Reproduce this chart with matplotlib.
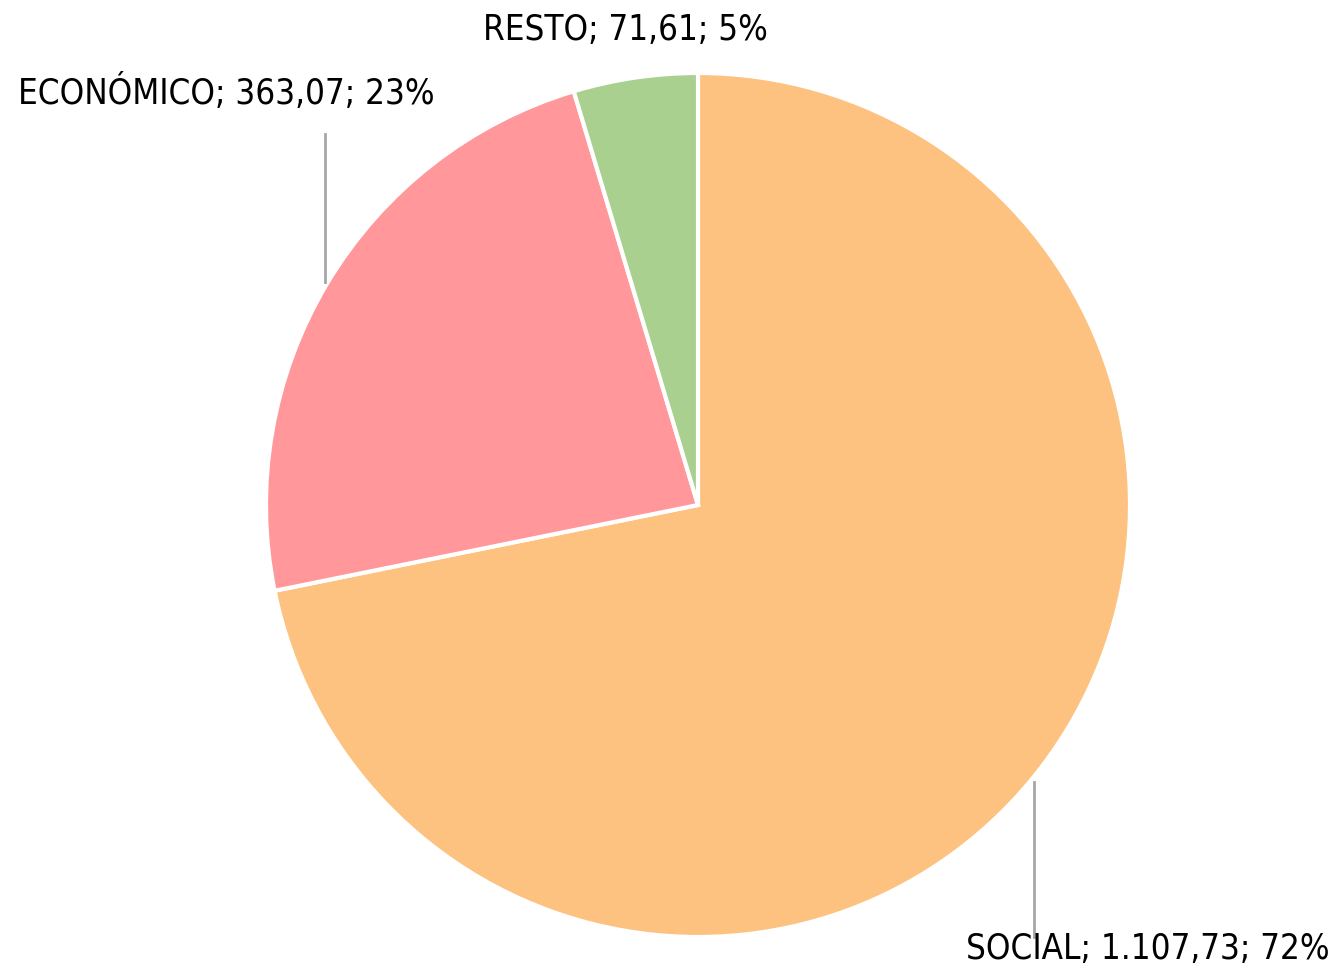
import matplotlib
matplotlib.use("Agg")
import matplotlib.pyplot as plt

# ── Data ─────────────────────────────────────────────
categories = ["SOCIAL", "ECONÓMICO", "RESTO"]
values = [1107.73, 363.07, 71.61]
percents = [72, 23, 5]
colors = ["#FDC180", "#FF979B", "#A9D08E"]

# label anchors in data units (pie radius = 1)
label_pos = [(1.463, -1.025, "right"), (-1.574, 0.958, "left"), (-0.167, 1.102, "center")]
leader_lines = {0: (0.778, -0.641, -1.0), 1: (-0.863, 0.859, 0.516)}


def fmt_es(v):
    s = f"{v:,.2f}"
    return s.replace(",", "X").replace(".", ",").replace("X", ".")


plt.rcParams["font.family"] = ["DejaVu Sans"]
plt.rcParams["font.stretch"] = "condensed"

fig = plt.figure(figsize=(13.38, 9.7), dpi=100)
ax = fig.add_axes([266 / 1338, 32 / 970, 864 / 1338, 864 / 970])

ax.pie(values, colors=colors, startangle=90, counterclock=False, radius=1,
       wedgeprops={"edgecolor": "white", "linewidth": 3})
ax.set_xlim(-1, 1)
ax.set_ylim(-1, 1)
ax.set_aspect("equal")
ax.axis("off")

for i, (cat, v) in enumerate(zip(categories, values)):
    x, y, ha = label_pos[i]
    ax.text(x, y, f"{cat}; {fmt_es(v)}; {percents[i]}%", ha=ha, va="center",
            fontsize=25, color="black", clip_on=False)

for i, (lx, y0, y1) in leader_lines.items():
    ax.plot([lx, lx], [y0, y1], color="#A6A6A6", linewidth=2, clip_on=False)

plt.savefig("out.png", dpi=100)
